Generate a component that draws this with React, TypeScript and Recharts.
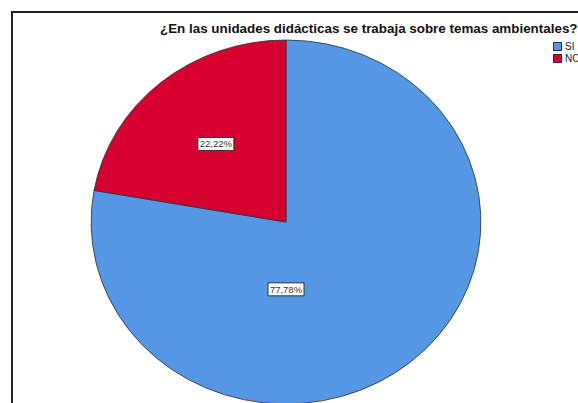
import React from "react";
import { PieChart, Pie, Cell, Legend } from "recharts";

const categories = ["SI", "NO"];
const percents = [77.78, 22.22];
const colors = ["#5597E5", "#D5002F"];

const title = "¿En las unidades didácticas se trabaja sobre temas ambientales?";

const data = categories.map((name, i) => ({ name, value: percents[i] }));

// SPSS draws the pie slightly wider than tall
const STRETCH = 1.071;

const fmt = (v: number) => v.toFixed(2).replace(".", ",") + "%";

const renderLabel = (props: any) => {
  const { cx, cy, midAngle, outerRadius, index, value } = props;
  const RAD = Math.PI / 180;
  let x: number;
  let y: number;
  if (index === 0) {
    x = cx;
    y = cy + outerRadius * 0.37;
  } else {
    const r = outerRadius * 0.56;
    x = cx + r * Math.cos(-midAngle * RAD) * STRETCH;
    y = cy + r * Math.sin(-midAngle * RAD);
  }
  return (
    <g key={`lbl-${index}`}>
      <rect
        x={x - 18}
        y={y - 6.5}
        width={36}
        height={13}
        fill="#fff"
        stroke="#333"
        strokeWidth={1}
      />
      <text
        x={x}
        y={y + 3.5}
        textAnchor="middle"
        fontSize={9.5}
        fontFamily="Liberation Sans, Arial, sans-serif"
        fill="#333"
      >
        {fmt(value)}
      </text>
    </g>
  );
};

const LegendBox = () => (
  <div style={{ fontFamily: "Liberation Sans, Arial, sans-serif", fontSize: 10, color: "#222" }}>
    {categories.map((c, i) => (
      <div key={c} style={{ display: "flex", alignItems: "center", height: 12.5 }}>
        <span
          style={{
            display: "inline-block",
            width: 7,
            height: 7,
            background: colors[i],
            border: "1px solid #333",
            marginRight: 3,
          }}
        />
        <span>{c}</span>
      </div>
    ))}
  </div>
);

export default function App() {
  return (
    <div
      style={{
        position: "absolute",
        left: 0,
        top: 0,
        width: 578,
        height: 403,
        overflow: "hidden",
        background: "#fff",
      }}
    >
      <style>{`.recharts-pie-sector{transform:scaleX(${STRETCH});transform-origin:286px 222px}`}</style>
      <div
        style={{
          position: "absolute",
          left: 11,
          top: 11,
          width: 700,
          height: 500,
          borderLeft: "2px solid #222",
          borderTop: "2px solid #222",
        }}
      />
      <div
        style={{
          position: "absolute",
          left: 160,
          top: 22,
          whiteSpace: "nowrap",
          fontFamily: "Liberation Sans, Arial, sans-serif",
          fontWeight: "bold",
          fontSize: 13.4,
          lineHeight: "14px",
          color: "#111",
        }}
      >
        {title}
      </div>
      <PieChart
        width={578}
        height={403}
        margin={{ top: 0, right: 0, bottom: 0, left: 0 }}
        style={{ position: "absolute", left: 0, top: 0 }}
      >
        <Pie
          data={data}
          dataKey="value"
          nameKey="name"
          cx={286}
          cy={222}
          outerRadius={182}
          startAngle={90}
          endAngle={-270}
          stroke="#333"
          strokeWidth={0.8}
          label={renderLabel}
          labelLine={false}
          isAnimationActive={false}
        >
          {data.map((d, i) => (
            <Cell key={d.name} fill={colors[i]} />
          ))}
        </Pie>
        <Legend
          content={<LegendBox />}
          wrapperStyle={{ position: "absolute", left: 553, top: 40, width: 40 }}
        />
      </PieChart>
    </div>
  );
}
